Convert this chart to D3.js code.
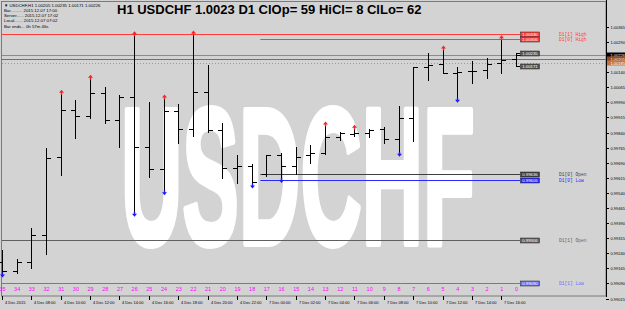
<!DOCTYPE html>
<html>
<head>
<meta charset="utf-8">
<script src="https://cdn.jsdelivr.net/npm/d3@7"></script>
<style>
body { margin: 0; background: #d3d3d3; }
svg { display: block; }
text { font-family: "Liberation Sans", Arial, sans-serif; }
</style>
</head>
<body>
<div id="chart"></div>
<script>
// bar numbers, oldest on the left
var barIndex = [35,34,33,32,31,30,29,28,27,26,25,24,23,22,21,20,19,18,17,16,15,14,13,12,11,10,9,8,7,6,5,4,3,2,1,0];
var opens  = [0.99197,0.99153,0.99198,0.99331,0.99717,0.99952,0.99922,1.00035,0.99902,1.00015,0.99767,0.99659,0.99947,0.99856,1.00043,0.99853,0.99662,0.99675,0.99636,0.99728,0.99674,0.99728,0.99737,0.99816,0.99835,0.99838,0.99856,0.99808,0.99914,1.00167,1.00179,1.00134,1.00146,1.00151,1.00184,1.00205];
var highs  = [0.99256,0.99210,0.99364,0.99763,1.00035,1.00002,1.00110,1.00066,1.00027,1.00326,0.99993,1.00012,0.99982,1.00330,1.00176,0.99886,0.99728,0.99684,0.99728,0.99740,0.99770,0.99778,0.99878,0.99844,0.99861,0.99856,0.99869,0.99972,1.00164,1.00234,1.00255,1.00167,1.00197,1.00209,1.00306,1.00235];
var lows   = [0.99137,0.99142,0.99167,0.99236,0.99629,0.99813,0.99912,0.99889,0.99768,0.99439,0.99621,0.99546,0.99787,0.99823,0.99844,0.99613,0.99591,0.99579,0.99624,0.99606,0.99634,0.99687,0.99733,0.99803,0.99825,0.99816,0.99790,0.99737,0.99798,1.00101,1.00134,1.00005,1.00085,1.00110,1.00134,1.00171];
var closes = [0.99153,0.99198,0.99331,0.99712,0.99952,0.99922,1.00035,0.99902,1.00015,0.99767,0.99659,0.99947,0.99856,1.00043,0.99853,0.99662,0.99675,0.99593,0.99728,0.99674,0.99720,0.99737,0.99816,0.99838,0.99838,0.99853,0.99808,0.99911,1.00164,1.00176,1.00134,1.00142,1.00146,1.00179,1.00201,1.00226];

// fractal arrows
var upArrowBars = [31,29,26,24,22,13,11,5,1];
var downArrowBars = [35,26,24,18,16,8,4];

// daily levels
var levelNames  = ["D1[1] High","D1[0] High","D1[0] Open","D1[0] Low","D1[1] Open","D1[1] Low"];
var levelPrices = [1.00330,1.00306,0.99636,0.99606,0.99306,0.99090];
var levelStart  = [35,17,17,17,35,35];
var levelColors = ["#ff3c3c","#ff3c3c","#404040","#2a2aff","#606060","#6a6aff"];

// price axis
var priceTicks = [1.00365,1.00290,1.00215,1.00140,1.00065,0.99990,0.99915,0.99840,0.99765,0.99690,0.99615,0.99540,0.99465,0.99390,0.99315,0.99240,0.99165,0.99090,0.99015];
var markerPrices = [1.00226,1.00205,1.00185];
var markerColors = ["#000000","#9a4a1a","#c07840"];

// time axis
var timeBars = [35,33,31,29,27,25,23,21,19,17,15,13,11,9,7,5,3,1];
var timeLabels = ["4 Dec 2015","4 Dec 08:00","4 Dec 10:00","4 Dec 12:00","4 Dec 14:00","4 Dec 16:00","4 Dec 18:00","4 Dec 20:00","4 Dec 22:00","7 Dec 00:00","7 Dec 02:00","7 Dec 04:00","7 Dec 06:00","7 Dec 08:00","7 Dec 10:00","7 Dec 12:00","7 Dec 14:00","7 Dec 16:00"];

var infoLines = ["\u25BC USDCHF,H1  1.00205 1.00235 1.00171 1.00226",
                 "Bar.......... 2015.12.07 17:00",
                 "Server...... 2015.12.07 17:02",
                 "Local....... 2015.12.07 07:02",
                 "Bar ends... 0h 57m 46s"];

var svgWidth = 625, svgHeight = 310;
var plotRight = 606, plotBottom = 296;

var svg = d3.select("#chart").append("svg")
  .attr("width", svgWidth)
  .attr("height", svgHeight);

svg.append("rect").attr("width", svgWidth).attr("height", svgHeight).attr("fill", "#d3d3d3");

var x = d3.scalePoint().domain(barIndex).range([2, 516]);
var y = d3.scaleLinear().domain([0.99015, 1.00290]).range([298.5, 42]);
var px = function(v) { return Math.round(v) + 0.5; };

// watermark
svg.append("text")
  .attr("x", 121).attr("y", 244)
  .attr("textLength", 354)
  .attr("lengthAdjust", "spacingAndGlyphs")
  .style("font-family", "'Liberation Sans Narrow', 'Liberation Sans', Arial, sans-serif")
  .style("font-weight", "bold")
  .style("font-size", "194px")
  .attr("fill", "#ffffff")
  .attr("stroke", "#ffffff")
  .attr("stroke-width", 6)
  .attr("stroke-linejoin", "round")
  .text("USDCHF");

// frame
svg.append("rect")
  .attr("x", 1.5).attr("y", 1.5)
  .attr("width", plotRight - 1.5).attr("height", plotBottom - 1.5)
  .attr("fill", "none").attr("stroke", "#7a7a7a");

// bid / ask lines
svg.append("line").attr("x1", 2).attr("x2", plotRight)
  .attr("y1", px(y(markerPrices[0]))).attr("y2", px(y(markerPrices[0])))
  .attr("stroke", "#8a8a8a");
svg.append("line").attr("x1", 2).attr("x2", plotRight)
  .attr("y1", px(y(markerPrices[1]))).attr("y2", px(y(markerPrices[1])))
  .attr("stroke", "#a0623a");
svg.append("line").attr("x1", 2).attr("x2", plotRight)
  .attr("y1", px(y(markerPrices[2]))).attr("y2", px(y(markerPrices[2])))
  .attr("stroke", "#c8906a").attr("stroke-dasharray", "1,2");

// daily level lines
var levels = levelNames.map(function(n, i) {
  return { name: n, price: levelPrices[i], start: levelStart[i], color: levelColors[i] };
});

var levelGroup = svg.append("g");
levels.forEach(function(d) {
  var yy = px(y(d.price));
  var x0 = d.start === 35 ? 2 : x(d.start) - 6;
  levelGroup.append("line")
    .attr("x1", x0).attr("x2", 520)
    .attr("y1", yy).attr("y2", yy)
    .attr("stroke", d.color);
  levelGroup.append("rect")
    .attr("x", 520.5).attr("y", yy - 2.5)
    .attr("width", 19).attr("height", 5)
    .attr("fill", d.color).attr("stroke", "#202020").attr("stroke-width", 0.5);
  levelGroup.append("text")
    .attr("x", 530).attr("y", yy + 1.6)
    .attr("text-anchor", "middle")
    .style("font-size", "4.3px")
    .attr("fill", "#ffffff")
    .text(d.price.toFixed(5));
  levelGroup.append("text")
    .attr("x", 559).attr("y", yy + 1.8)
    .style("font-family", "'Liberation Mono', monospace")
    .style("font-size", "4.6px")
    .attr("fill", d.color)
    .text(d.name);
});

// OHLC bars
var bars = barIndex.map(function(b, i) {
  return { bar: b, o: opens[i], h: highs[i], l: lows[i], c: closes[i] };
});

var barGroup = svg.append("g").attr("stroke", "#000000");
barGroup.selectAll(".hl").data(bars).enter().append("line")
  .attr("x1", d => px(x(d.bar))).attr("x2", d => px(x(d.bar)))
  .attr("y1", d => Math.round(y(d.h))).attr("y2", d => Math.round(y(d.l)) + 1);
barGroup.selectAll(".op").data(bars).enter().append("line")
  .attr("x1", d => Math.round(x(d.bar)) - 4).attr("x2", d => Math.round(x(d.bar)))
  .attr("y1", d => px(y(d.o))).attr("y2", d => px(y(d.o)));
barGroup.selectAll(".cl").data(bars).enter().append("line")
  .attr("x1", d => Math.round(x(d.bar)) + 1).attr("x2", d => Math.round(x(d.bar)) + 5)
  .attr("y1", d => px(y(d.c))).attr("y2", d => px(y(d.c)));

// current bar high / low tags
var last = bars[bars.length - 1];
[last.h, last.l].forEach(function(p) {
  var yy = px(y(p));
  svg.append("line").attr("x1", px(x(0))).attr("x2", 520).attr("y1", yy).attr("y2", yy).attr("stroke", "#000");
  svg.append("rect").attr("x", 520.5).attr("y", yy - 2.5).attr("width", 19).attr("height", 5)
    .attr("fill", "#555555").attr("stroke", "#202020").attr("stroke-width", 0.5);
  svg.append("text").attr("x", 530).attr("y", yy + 1.6).attr("text-anchor", "middle")
    .style("font-size", "4.3px").attr("fill", "#ffffff").text(p.toFixed(5));
});

// fractal arrows
var arrowUp = "M0,-2.5 L2.5,0.5 L0.7,0.5 L0.7,2.5 L-0.7,2.5 L-0.7,0.5 L-2.5,0.5 Z";
var arrowDown = "M0,2.5 L2.5,-0.5 L0.7,-0.5 L0.7,-2.5 L-0.7,-2.5 L-0.7,-0.5 L-2.5,-0.5 Z";
svg.selectAll(".up").data(upArrowBars).enter().append("path")
  .attr("d", arrowUp)
  .attr("transform", b => "translate(" + px(x(b)) + "," + (y(highs[barIndex.indexOf(b)]) - 1) + ")")
  .attr("fill", "#ff2020");
svg.selectAll(".dn").data(downArrowBars).enter().append("path")
  .attr("d", arrowDown)
  .attr("transform", b => "translate(" + px(x(b)) + "," + (y(lows[barIndex.indexOf(b)]) + 1) + ")")
  .attr("fill", "#1a1aff");

// bar numbers
svg.selectAll(".num").data(barIndex).enter().append("text")
  .attr("x", b => x(b) + 0.5).attr("y", 290.5)
  .attr("text-anchor", "middle")
  .style("font-size", "5.5px")
  .attr("fill", "#ff00ff")
  .text(b => b);

// price axis
svg.append("line").attr("x1", plotRight + 0.5).attr("x2", plotRight + 0.5)
  .attr("y1", 0).attr("y2", plotBottom + 1).attr("stroke", "#000");
var yAxis = svg.append("g").selectAll("g").data(priceTicks).enter().append("g")
  .attr("transform", d => "translate(0," + px(y(d)) + ")");
yAxis.append("line").attr("x1", plotRight).attr("x2", plotRight + 3).attr("stroke", "#000");
yAxis.append("text").attr("x", plotRight + 4.5).attr("y", 1.5)
  .style("font-size", "4px").attr("fill", "#000").text(d => d.toFixed(5));

// bid / ask markers on the axis
markerPrices.forEach(function(p, i) {
  var yy = y(p);
  svg.append("rect").attr("x", plotRight + 1).attr("y", Math.round(yy) - 2.5)
    .attr("width", 19).attr("height", 5).attr("fill", markerColors[i]);
  svg.append("text").attr("x", plotRight + 4.5).attr("y", Math.round(yy) + 1.5)
    .style("font-size", "4px").attr("fill", "#ffffff").text(p.toFixed(5));
});

// time axis
var tAxis = svg.append("g").selectAll("g").data(timeBars).enter().append("g")
  .attr("transform", (b, i) => "translate(" + px(x(b)) + ",0)");
tAxis.append("line").attr("y1", plotBottom).attr("y2", plotBottom + 4).attr("stroke", "#000");
tAxis.append("text").attr("x", 2.5).attr("y", 304)
  .style("font-size", "4px").attr("fill", "#000")
  .text((b, i) => timeLabels[i]);

// title and info
svg.append("text").attr("x", 117).attr("y", 14)
  .style("font-weight", "bold").style("font-size", "13px")
  .attr("fill", "#000")
  .text("H1 USDCHF 1.0023 D1 ClOp= 59 HiCl= 8 ClLo= 62");

svg.selectAll(".info").data(infoLines).enter().append("text")
  .attr("x", 4).attr("y", (d, i) => 6.5 + i * 5.3)
  .style("font-size", "4.3px").attr("fill", "#000")
  .text(d => d);
</script>
</body>
</html>
